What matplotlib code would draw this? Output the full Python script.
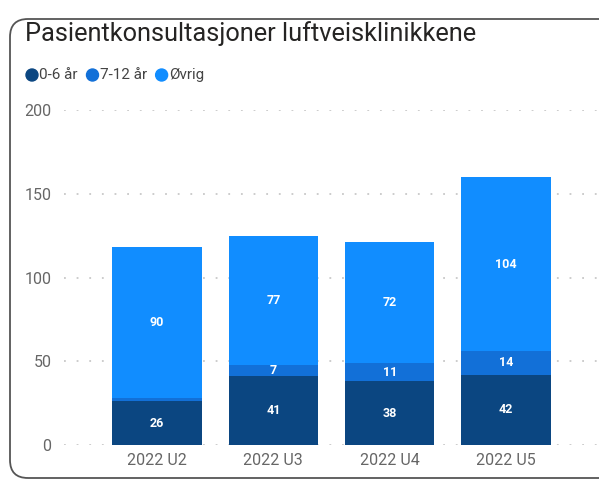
import matplotlib
matplotlib.use("Agg")
import matplotlib.pyplot as plt
from matplotlib.patches import FancyBboxPatch, Ellipse
import numpy as np

categories = ["2022 U2", "2022 U3", "2022 U4", "2022 U5"]
age_0_6 = [26, 41, 38, 42]
age_7_12 = [2, 7, 11, 14]
ovrig = [90, 77, 72, 104]
series_names = ["0-6 år", "7-12 år", "Øvrig"]
colors = ["#0B4681", "#1270D8", "#118DFF"]
yticks = [0, 50, 100, 150, 200]

W, H = 599, 482
fig = plt.figure(figsize=(W / 100, H / 100), dpi=100)
fig.patch.set_facecolor("white")

# card border
card = FancyBboxPatch((10 / W, 4 / H), (W + 20) / W, (H - 19 - 4) / H,
                      boxstyle="round,pad=0,rounding_size=0.03",
                      transform=fig.transFigure, facecolor="none",
                      edgecolor="#555555", linewidth=1.3, zorder=-5,
                      mutation_aspect=W / H)
fig.patches.append(card)

fig.text(25 / W, 1 - 34 / H, "Pasientkonsultasjoner luftveisklinikkene",
         fontsize=18.3, color="#252423", va="center", ha="left", family="Roboto")

# legend
lx = 32
for name, c in zip(series_names, colors):
    fig.patches.append(Ellipse((lx / W, 1 - 75 / H), 12 / W, 12 / H,
                               transform=fig.transFigure, color=c))
    t = fig.text((lx + 7) / W, 1 - 75 / H, name, fontsize=11, color="#444444",
                 va="center", ha="left", family="Roboto")
    fig.canvas.draw()
    bb = t.get_window_extent()
    lx = bb.x1 + 15

ax = fig.add_axes([64 / W, (H - 445) / H, (W - 64) / W, (445 - 110) / H])
x = np.arange(len(categories))
width = 0.77
bottom = np.zeros(len(categories))
for vals, c in zip([age_0_6, age_7_12, ovrig], colors):
    vals = np.array(vals, dtype=float)
    ax.bar(x, vals, width, bottom=bottom, color=c, zorder=2)
    for xi, v, b in zip(x, vals, bottom):
        if v >= 5:
            ax.text(xi, b + v / 2, f"{int(v)}", ha="center", va="center",
                    color="white", fontsize=9, fontweight="bold", family="Roboto", zorder=3)
    bottom += vals

ax.set_xlim(-0.80, 3.8)
ax.set_ylim(0, 200)
ax.set_yticks(yticks)
ax.set_yticklabels([str(t) for t in yticks], fontsize=11.5, color="#666666", family="Roboto")
ax.set_xticks(x)
ax.set_xticklabels(categories, fontsize=11.5, color="#666666", family="Roboto")
ax.tick_params(axis="both", length=0)
ax.tick_params(axis="y", pad=9)
ax.tick_params(axis="x", pad=6)
ax.grid(axis="y", color="#C8C8C8", linestyle=(0, (1, 6)), linewidth=1.3, zorder=0)
for s in ax.spines.values():
    s.set_visible(False)
ax.set_facecolor("none")

fig.savefig("out.png", dpi=100)
